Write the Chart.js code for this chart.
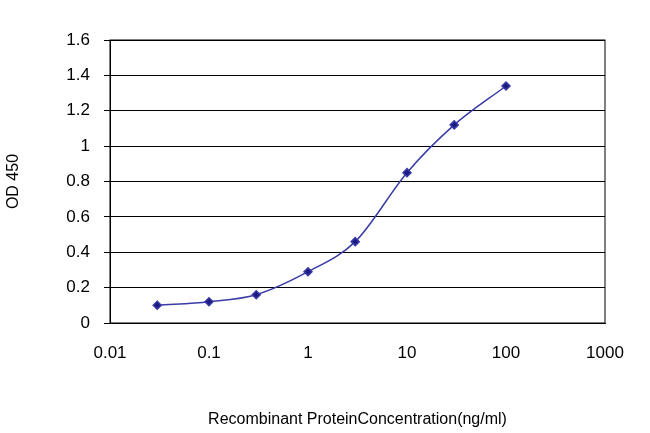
<!DOCTYPE html>
<html><head><script src="https://cdn.jsdelivr.net/npm/chart.js@4"></script>
<style>body{margin:0;background:#fff}</style></head><body>
<canvas id="c" width="650" height="433"></canvas>
<script>
const concentrations=[0.03,0.1,0.3,1,3,10,30,100];
const odValues=[0.10,0.12,0.16,0.29,0.46,0.85,1.12,1.34];
const xTicks=[0.01,0.1,1,10,100,1000];
const yTicks=[0,0.2,0.4,0.6,0.8,1,1.2,1.4,1.6];
new Chart(document.getElementById('c'),{
type:'line',
data:{datasets:[{data:concentrations.map((x,i)=>({x,y:odValues[i]})),borderColor:'#3a3aa8',borderWidth:1.5,backgroundColor:'#1a1a80',pointStyle:'rectRot',pointRadius:4,cubicInterpolationMode:'monotone'}]},
options:{responsive:false,animation:false,layout:{padding:{left:0,right:45,top:40,bottom:0}},
plugins:{legend:{display:false},tooltip:{enabled:false}},
scales:{
x:{type:'logarithmic',min:0.01,max:1000,afterBuildTicks:a=>{a.ticks=xTicks.map(v=>({value:v}));},
afterFit:s=>{s.height=110;},
grid:{display:false,drawTicks:true,tickLength:6,color:'#000'},border:{color:'#000'},
ticks:{color:'#000',font:{family:'Arial, Liberation Sans',size:17},padding:14,maxRotation:0,callback:v=>String(v)},
title:{display:true,text:'Recombinant ProteinConcentration(ng/ml)',color:'#000',font:{family:'Arial, Liberation Sans',size:16},padding:{top:18}}},
y:{min:0,max:1.6,afterBuildTicks:a=>{a.ticks=yTicks.map(v=>({value:v}));},
afterFit:s=>{s.width=110;},
grid:{color:'#000',drawTicks:true,tickLength:6},border:{color:'#000'},
ticks:{color:'#000',font:{family:'Arial, Liberation Sans',size:17},padding:14,callback:v=>String(v)},
title:{display:true,text:'OD 450',color:'#000',font:{family:'Arial, Liberation Sans',size:16},padding:{bottom:4}}}
}},
plugins:[{id:'frame',afterDraw(c){const a=c.chartArea,x=c.ctx;x.save();x.strokeStyle='#000';x.lineWidth=1;x.strokeRect(a.left,a.top,a.right-a.left,a.bottom-a.top);x.restore();}}]
});
</script></body></html>
